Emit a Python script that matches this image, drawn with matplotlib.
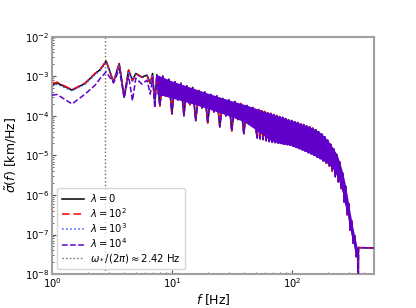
import matplotlib.pyplot as plt
import numpy as np

#values, stored as log10 of sigma~(f) [km/Hz]
#low frequency part, each lambda has its own curve
f_low = [1.0, 1.1, 1.47, 1.89, 2.30, 2.53, 2.83, 3.26, 3.64, 4.0, 4.35, 4.69, 5.0, 5.63, 6.2, 6.6, 6.9, 7.2]
lg_lam0 = [-3.22, -3.17, -3.35, -3.18, -2.93, -2.83, -2.62, -3.14, -2.68, -3.52, -2.85, -3.10, -2.93, -3.02, -2.97, -3.18, -2.93, -3.65]
lg_lam2 = [-3.20, -3.15, -3.34, -3.17, -2.92, -2.82, -2.61, -3.16, -2.67, -3.55, -2.84, -3.12, -2.94, -3.03, -2.98, -3.20, -2.94, -3.68]
lg_lam3 = [-3.25, -3.20, -3.37, -3.20, -2.95, -2.85, -2.64, -3.15, -2.70, -3.55, -2.87, -3.12, -2.95, -3.04, -2.99, -3.19, -2.95, -3.67]
lg_lam4 = [-3.48, -3.46, -3.70, -3.45, -3.22, -3.05, -2.89, -3.17, -2.82, -3.55, -2.98, -3.62, -3.05, -3.20, -3.10, -3.45, -3.05, -3.80]

#middle part (peaks / troughs), the four curves lie on top of each other
f_mid_pk = [7.5, 8.41, 9.44, 10.6, 11.9, 13.3, 14.9, 16.8, 18.8, 21.1, 23.7, 26.6, 29.9, 33.5, 37.6, 42.2, 47.3]
lg_mid_pk = [-2.96, -3.00, -3.08, -3.14, -3.18, -3.24, -3.28, -3.36, -3.40, -3.46, -3.50, -3.56, -3.60, -3.64, -3.69, -3.74, -3.79]
f_mid_tr = [7.94, 8.91, 10.0, 11.2, 12.6, 14.1, 15.8, 17.8, 19.9, 22.4, 25.1, 28.2, 31.6, 35.5, 39.8, 44.7]
lg_mid_tr = [-3.75, -3.50, -3.95, -3.60, -4.00, -3.72, -4.12, -3.80, -4.18, -3.90, -4.28, -4.00, -4.38, -4.10, -4.45, -4.20]

#high frequency part, dense band
f_hi_tr = [51.5, 54.5, 57.7, 61.2, 64.8, 68.7, 72.8, 77.1, 81.7, 86.5, 91.6, 97.1, 102.8, 108.9, 115.4, 122.3, 129.6,
           137.2, 145.4, 154.0, 163.1, 172.8, 183.0, 193.9, 205.4, 217.5, 230.5, 244.1, 258.5, 273.9, 290.0, 307.2, 325.4, 344.8]
lg_hi_tr = [-4.56, -4.58, -4.60, -4.63, -4.65, -4.67, -4.68, -4.69, -4.70, -4.72, -4.73, -4.74, -4.77, -4.80, -4.83, -4.86, -4.89,
            -4.93, -4.96, -5.00, -5.04, -5.08, -5.14, -5.20, -5.27, -5.40, -5.54, -5.67, -5.84, -6.18, -6.50, -6.89, -7.22, -7.56]
f_hi_pk = [53.0, 56.1, 59.4, 63.0, 66.7, 70.7, 74.9, 79.3, 84.0, 89.0, 94.3, 99.9, 105.8, 112.1, 118.8, 125.9, 133.3,
           141.3, 149.6, 158.5, 167.9, 177.8, 188.4, 199.5, 211.3, 223.9, 237.1, 251.2, 266.1, 281.8, 298.5, 316.2, 335.0, 354.8]
lg_hi_pk = [-3.84, -3.87, -3.89, -3.92, -3.94, -3.97, -3.99, -4.02, -4.04, -4.07, -4.10, -4.12, -4.15, -4.17, -4.20, -4.22, -4.25,
            -4.28, -4.31, -4.35, -4.40, -4.46, -4.53, -4.62, -4.72, -4.84, -4.97, -5.17, -5.44, -5.78, -6.22, -6.65, -7.03, -7.40]

#cut-off and flat tail
f_tail = [357.0, 360.0, 500.0]
lg_tail = [-9.5, -7.33, -7.34]

#edges of the region that the oscillations fill solid
f_band = [7.5, 10, 15, 20, 30, 40, 50, 66, 80, 97, 120, 142, 165, 183, 200, 222, 240, 253, 265, 277, 290, 305, 325, 345, 355]
lg_band_top = [-2.96, -3.12, -3.30, -3.43, -3.60, -3.71, -3.81, -3.94, -4.02, -4.11, -4.20, -4.28, -4.38, -4.49, -4.62,
               -4.82, -5.00, -5.20, -5.42, -5.67, -6.00, -6.40, -6.85, -7.22, -7.40]
lg_band_bot = [-3.45, -3.55, -3.70, -3.82, -4.00, -4.15, -4.35, -4.62, -4.70, -4.74, -4.85, -4.95, -5.05, -5.13, -5.21,
               -5.36, -5.54, -5.75, -5.95, -6.25, -6.45, -6.85, -7.22, -7.56, -7.56]

f_star = 2.78
labels = [r"$\lambda = 0$", r"$\lambda = 10^2$", r"$\lambda = 10^3$", r"$\lambda = 10^4$"]
vline_label = r"$\omega_*/(2\pi) \approx 2.42$ Hz"
purple = "#6000c8"


#build shared mid + high part (zigzag peak, trough, peak ...)
f_mid = np.empty(len(f_mid_pk) + len(f_mid_tr))
lg_mid = np.empty(len(f_mid))
f_mid[0::2] = f_mid_pk
f_mid[1::2] = f_mid_tr
lg_mid[0::2] = lg_mid_pk
lg_mid[1::2] = lg_mid_tr

f_hi = np.empty(len(f_hi_tr) + len(f_hi_pk))
lg_hi = np.empty(len(f_hi))
f_hi[0::2] = f_hi_tr
f_hi[1::2] = f_hi_pk
lg_hi[0::2] = lg_hi_tr
lg_hi[1::2] = lg_hi_pk

f_all = np.concatenate([f_low, f_mid, f_hi, f_tail])
def full(lg_low):
    return 10 ** np.concatenate([lg_low, lg_mid, lg_hi, lg_tail])


fig = plt.figure(figsize=(4.16, 3.08), dpi=100)
ax = fig.add_axes([0.125, 0.110, 0.774, 0.771])

ax.plot(f_all, full(lg_lam0), color="k", lw=1.1, label=labels[0], zorder=2)
ax.plot(f_all, full(lg_lam2), color="red", lw=1.1, dashes=(5, 2.5), label=labels[1], zorder=2.2)
ax.plot(f_all, full(lg_lam3), color="#3355ff", lw=1.1, linestyle=":", label=labels[2], zorder=2.4)
#solid part of the band, the purple curve covers the others there
ax.fill_between(f_band, 10 ** np.array(lg_band_bot), 10 ** np.array(lg_band_top),
                color=purple, lw=0, zorder=3)
ax.plot(f_all, full(lg_lam4), color=purple, lw=1.1, linestyle="--", label=labels[3], zorder=4)
ax.axvline(f_star, color="0.4", lw=1.0, linestyle=":", label=vline_label, zorder=1)

ax.set_xscale("log")
ax.set_yscale("log")
ax.set_xlim(1, 485)
ax.set_ylim(1e-8, 1e-2)
ax.set_xlabel(r"$f$ [Hz]", fontsize=9, labelpad=1.5)
ax.set_ylabel(r"$\tilde{\sigma}(f)$ [km/Hz]", fontsize=9)
ax.tick_params(which="both", direction="in", labelsize=7.2, color="0.3")
ax.tick_params(axis="x", pad=1.5)
ax.tick_params(axis="y", pad=2.0)
ax.tick_params(which="major", length=3)
ax.tick_params(which="minor", length=1.5)
for s in ax.spines.values():
    s.set_color("#a0a0a0")
    s.set_linewidth(1.5)

ax.legend(loc="lower left", fontsize=7.2, handlelength=2.2, handletextpad=0.65,
          labelspacing=0.15, borderpad=0.45)

fig.savefig("out.png", dpi=100)
